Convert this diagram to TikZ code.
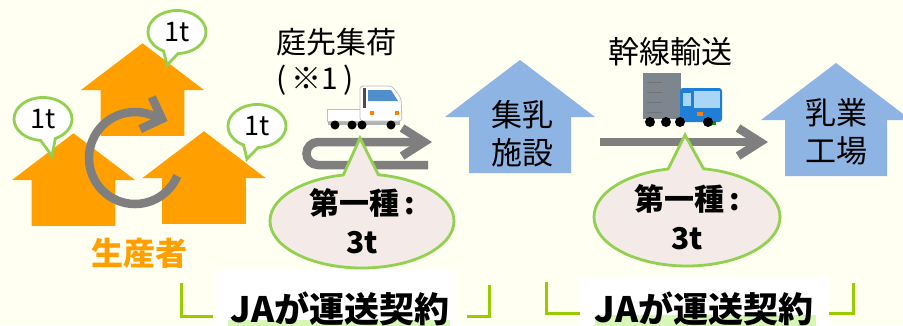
\documentclass[tikz,border=0pt]{standalone}
\usepackage{fontspec}
\setmainfont{Noto Sans CJK JP}
\usepackage{tikz}
\usetikzlibrary{shapes,shapes.callouts,arrows.meta,positioning,calc,backgrounds}

\definecolor{paper}{HTML}{FFFFF2}
\definecolor{farm}{HTML}{FFA000}
\definecolor{plant}{HTML}{8EB4E3}
\definecolor{leaf}{HTML}{92D050}
\definecolor{lime}{HTML}{99CC00}
\definecolor{blush}{HTML}{F4EAE7}
\definecolor{marker}{HTML}{D6F7B5}
\definecolor{road}{HTML}{7F7F7F}
\definecolor{glass}{HTML}{4F8FCC}
\definecolor{sky}{HTML}{A9D6F5}
\definecolor{cargo}{HTML}{7D858E}
\definecolor{cab}{HTML}{1F7FD6}

\begin{document}
\begin{tikzpicture}[
    x=1pt, y=1pt,
    house/.pic={\fill (-75,0) -- (0,57) -- (75,0) -- (51,0) -- (51,-56) -- (-51,-56) -- (-51,0) -- cycle;},
    tonbox/.style={ellipse callout, draw=leaf, line width=2.8pt, fill=white, inner sep=0pt, minimum width=58pt, minimum height=43pt, callout pointer arc=30, font=\fontsize{27}{27}\selectfont},
    loadbox/.style={ellipse callout, draw=leaf, line width=2.8pt, fill=blush, inner sep=0pt, callout pointer arc=22, align=center, font=\fontsize{30}{39}\selectfont\bfseries},
    sitelabel/.style={align=center, font=\fontsize{31}{38}\selectfont},
    steplabel/.style={align=left, font=\fontsize{30}{36}\selectfont},
    contract/.style={anchor=base, inner sep=0pt, font=\fontsize{35}{35}\selectfont\bfseries},
    flow/.style={draw=road, line width=8.5pt, -{Straight Barb[length=22pt, width=28pt]}},
    bracket/.style={draw=lime, line width=3pt}
]
    \useasboundingbox (0,0) rectangle (903,-325);

    % producers
    \pic [fill=farm, scale=0.82] at (142.5,-90) {house};
    \pic [fill=farm, scale=0.82] at (73.5,-180) {house};
    \pic [fill=farm, scale=0.82] at (204,-178) {house};
    \coordinate (hub) at (135,-158);
    \draw [flow, -{Straight Barb[length=17pt, width=34pt]}] ([shift={(-23:46)}]hub) arc [start angle=-23, end angle=-290, radius=46] -- ++(-20:18);
    \node [tonbox, callout absolute pointer={(167,-65)}] (tonC) at (177,-32) {1t};
    \node [tonbox, callout absolute pointer={(52,-156)}] (tonL) at (43,-119) {1t};
    \node [tonbox, callout absolute pointer={(247,-159)}] (tonR) at (257,-126) {1t};
    \node [font=\fontsize{32}{32}\selectfont\bfseries, text=farm] (producers) at (139,-253) {生産者};

    % pickup truck and turn
    \node [steplabel, anchor=west] (pickup) at (273,-62) {庭先集荷\\(\,※1\,)};
    \fill [gray!60] (328,-120) rectangle (400,-125);
    \filldraw [fill=white, draw=gray!50, line width=0.8pt] (327,-109) rectangle (362,-121);
    \filldraw [fill=white, draw=gray!50, line width=0.8pt, rounded corners=3pt] (360,-121) -- (360,-86) -- (392,-86) -- (401,-98) -- (402,-121) -- cycle;
    \fill [glass] (368,-90) -- (391,-90) -- (398,-101) -- (368,-101) -- cycle;
    \fill [black!70] (363,-88) rectangle (366,-108);
    \fill [orange] (370,-111) rectangle (374,-115);
    \fill [orange] (395,-111) rectangle (399,-115);
    \foreach \x in {335,352,362,391} \fill [black] (\x,-125) circle (4.5);
    \coordinate (pickupA) at (428,-165);
    \coordinate (pickupB) at (432,-142);
    \draw [flow] (pickupA) -- ++(-110,0) arc [start angle=270, end angle=90, radius=11.5] -- (pickupB);
    \node [loadbox, minimum width=184pt, minimum height=94pt, callout absolute pointer={(360,-138)}] (pickupload) at (362,-221) {第一種\,:\\3t};

    % collection facility
    \pic [fill=plant] at (520,-117) {house};
    \node [sitelabel] (facility) at (522,-134) {集乳\\施設};

    % trunk truck
    \node [sitelabel] (trunk) at (670,-52) {幹線輸送};
    \fill [cargo] (643,-73) rectangle (681,-119);
    \foreach \y in {-82,-92,-102,-112} \draw [black!55, line width=0.8pt] (647,\y) -- (662,\y);
    \fill [cab, rounded corners=3pt] (680,-88) rectangle (722,-122);
    \fill [sky] (694,-91) rectangle (720,-108);
    \fill [sky] (683,-93) rectangle (691,-106);
    \fill [orange] (697,-112) rectangle (703,-116);
    \fill [green!60!black] (704,-121) rectangle (716,-125);
    \foreach \x in {650,666,680,708} \fill [black] (\x,-122) circle (5);
    \coordinate (trunkA) at (600,-142);
    \coordinate (trunkB) at (768,-142);
    \draw [flow] (trunkA) -- (trunkB);
    \node [loadbox, minimum width=186pt, minimum height=98pt, callout absolute pointer={(685,-135)}] (trunkload) at (687,-217) {第一種\,:\\3t};

    % dairy plant
    \pic [fill=plant] at (836,-120) {house};
    \node [sitelabel] (factory) at (836,-132) {乳業\\工場};

    % contracts
    \node [contract] (jaA) at (340,-322) {JAが運送契約};
    \node [contract] (jaB) at (704,-322) {JAが運送契約};
    \draw [bracket] ([shift={(-49,39)}]jaA.base west) |- ++(32,-33);
    \draw [bracket] ([shift={(17,6)}]jaA.base east) -| ++(23,31);
    \draw [bracket] ([shift={(-48,40)}]jaB.base west) |- ++(33,-31);
    \draw [bracket] ([shift={(15,9)}]jaB.base east) -| ++(25,30);

    \begin{scope}[on background layer]
        \fill [paper] (0,0) rectangle (903,-325);
        \fill [white] ([shift={(-14,52)}]jaA.base west) rectangle ([shift={(5,-10)}]jaA.base east);
        \fill [white] ([shift={(-15,44)}]jaB.base west) rectangle ([shift={(15,-10)}]jaB.base east);
        \fill [marker] ([shift={(-2,2)}]jaA.base west) rectangle ([shift={(0,-5)}]jaA.base east);
        \fill [marker] ([shift={(0,7)}]jaB.base west) rectangle ([shift={(2,-5)}]jaB.base east);
    \end{scope}
\end{tikzpicture}
\end{document}
